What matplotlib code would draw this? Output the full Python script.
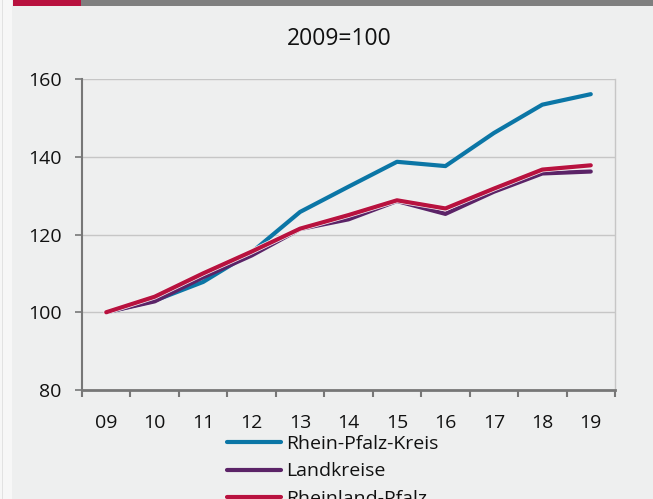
import matplotlib.pyplot as plt
import matplotlib.patheffects as pe
from matplotlib.patches import Rectangle
import numpy as np

plt.rcParams['font.family'] = ['Open Sans', 'DejaVu Sans']

years = ['09', '10', '11', '12', '13', '14', '15', '16', '17', '18', '19']
rhein_pfalz_kreis = [100, 103.0, 107.8, 115.4, 125.8, 132.3, 138.7, 137.6, 146.1, 153.4, 156.1]
landkreise = [100, 102.8, 109.0, 114.6, 121.4, 123.9, 128.6, 125.3, 131.0, 135.7, 136.2]
rheinland_pfalz = [100, 104.0, 110.0, 115.6, 121.5, 125.0, 128.8, 126.7, 131.8, 136.7, 137.8]

bg = '#eeefef'
txt = '#111111'
fig = plt.figure(figsize=(6.53, 4.99), dpi=100)
fig.patch.set_facecolor(bg)

# page strip on the left and the coloured header bar
fig.patches.append(Rectangle((0, 0), 12 / 653, 1, transform=fig.transFigure,
                             facecolor='#f7f7f7', edgecolor='none', zorder=0))
fig.patches.append(Rectangle((2 / 653, 0), 1 / 653, 1, transform=fig.transFigure,
                             facecolor='#e2e2e2', edgecolor='none', zorder=0))
fig.patches.append(Rectangle((13 / 653, 1 - 6 / 499), 68 / 653, 6 / 499,
                             transform=fig.transFigure, facecolor='#b8123f',
                             edgecolor='none'))
fig.patches.append(Rectangle((81 / 653, 1 - 6 / 499), 1, 6 / 499,
                             transform=fig.transFigure, facecolor='#7f7f7f',
                             edgecolor='none'))

ax = fig.add_axes([82 / 653, 1 - 390 / 499, 533 / 653, 311 / 499])
ax.set_facecolor(bg)

x = np.arange(len(years))
outline = [pe.Stroke(linewidth=4.0, foreground='#f4f4f4'), pe.Normal()]
ax.plot(x, rhein_pfalz_kreis, color='#0b76a6', lw=3, solid_capstyle='round',
        label='Rhein-Pfalz-Kreis', zorder=3)
ax.plot(x, landkreise, color='#5b2367', lw=3, solid_capstyle='round',
        label='Landkreise', zorder=4)
ax.plot(x, rheinland_pfalz, color='#b8123f', lw=3, solid_capstyle='round',
        label='Rheinland-Pfalz', zorder=5, path_effects=outline)

ax.set_xlim(-0.5, len(years) - 0.5)
ax.set_ylim(80, 160)
ax.set_yticks([80, 100, 120, 140, 160])
ax.set_xticks(x)
ax.set_xticklabels(years)
ax.set_xticks(np.arange(-0.5, len(years)), minor=True)
ax.yaxis.grid(True, color='#c6c6c6', lw=1)
ax.set_axisbelow(True)

ax.spines['top'].set_visible(False)
ax.spines['right'].set_color('#c6c6c6')
ax.spines['right'].set_linewidth(1)
ax.spines['left'].set_color('#777777')
ax.spines['left'].set_linewidth(1.5)
ax.spines['bottom'].set_color('#777777')
ax.spines['bottom'].set_linewidth(2)

ax.tick_params(axis='y', length=5, width=1.2, color='#777777', pad=9.5,
               labelsize=14, labelcolor=txt)
ax.tick_params(axis='x', which='major', length=0, pad=17, labelsize=14,
               labelcolor=txt)
ax.tick_params(axis='x', which='minor', length=5, width=1.5, color='#777777')

fig.text(339 / 653, 1 - 39 / 499, '2009=100', ha='center', va='center',
         fontsize=16.5, color=txt)

fig.legend(loc='upper left', bbox_to_anchor=(227 / 653, 1 - 435 / 499),
           frameon=False, fontsize=14, handlelength=2.8, handletextpad=0.25,
           labelspacing=0.48, borderpad=0, borderaxespad=0, labelcolor=txt)

fig.savefig('out.png', dpi=100, facecolor=bg)
